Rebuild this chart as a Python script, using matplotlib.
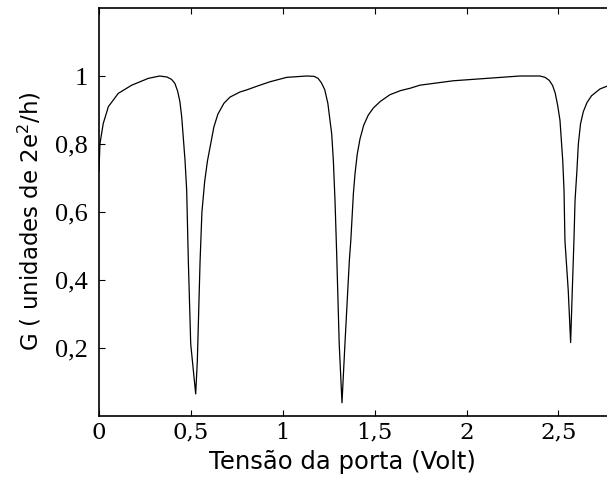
import matplotlib
matplotlib.use('Agg')
import matplotlib.pyplot as plt

#-Gate voltage (Volt)
v_gate = [0.000, 0.005, 0.023, 0.051, 0.105, 0.178, 0.268, 0.330, 0.370, 0.395,
          0.413, 0.428, 0.440, 0.450, 0.468, 0.477, 0.486, 0.499, 0.526, 0.535,
          0.550, 0.560, 0.575, 0.590, 0.604, 0.625, 0.647, 0.680, 0.713, 0.767,
          0.803, 0.870, 0.930, 1.021, 1.130, 1.170, 1.192, 1.210, 1.228, 1.245,
          1.266, 1.275, 1.284, 1.293, 1.307, 1.322, 1.338, 1.362, 1.370, 1.384,
          1.393, 1.405, 1.420, 1.440, 1.465, 1.493, 1.530, 1.583, 1.640, 1.693,
          1.746, 1.928, 2.109, 2.290, 2.399, 2.427, 2.450, 2.468, 2.482, 2.495,
          2.508, 2.523, 2.530, 2.535, 2.553, 2.566, 2.575, 2.584, 2.590, 2.600,
          2.608, 2.620, 2.635, 2.655, 2.680, 2.726, 2.764, 2.800]
#-Conductance G (units of 2e^2/h)
cond = [0.720, 0.800, 0.860, 0.910, 0.949, 0.973, 0.993, 1.000, 0.997, 0.990,
        0.978, 0.955, 0.925, 0.880, 0.752, 0.664, 0.457, 0.212, 0.065, 0.162,
        0.457, 0.600, 0.690, 0.750, 0.790, 0.850, 0.888, 0.920, 0.938, 0.953,
        0.959, 0.972, 0.983, 0.996, 1.000, 0.999, 0.993, 0.980, 0.960, 0.920,
        0.830, 0.752, 0.634, 0.480, 0.211, 0.039, 0.211, 0.457, 0.516, 0.654,
        0.713, 0.770, 0.815, 0.855, 0.885, 0.906, 0.925, 0.945, 0.957, 0.964,
        0.973, 0.986, 0.993, 1.000, 1.000, 0.996, 0.987, 0.972, 0.950, 0.915,
        0.870, 0.752, 0.664, 0.516, 0.369, 0.216, 0.369, 0.516, 0.634, 0.720,
        0.800, 0.860, 0.895, 0.922, 0.942, 0.962, 0.970, 0.975]

x_ticks = [0, 0.5, 1, 1.5, 2, 2.5]
x_ticklabels = ['0', '0,5', '1', '1,5', '2', '2,5']
y_ticks = [0.2, 0.4, 0.6, 0.8, 1.0]
y_ticklabels = ['0,2', '0,4', '0,6', '0,8', '1']

fig = plt.figure(figsize=(6.07, 4.79), dpi=100, facecolor='w')
ax = fig.add_axes([99/607., 63/479., 551.4/607., 408/479.])
ax.plot(v_gate, cond, color='k', lw=0.9)

ax.set_xlim(0, 3)
ax.set_ylim(0, 1.2)
ax.set_xticks(x_ticks)
ax.set_xticklabels(x_ticklabels, family='DejaVu Serif', fontsize=16.5)
ax.set_yticks(y_ticks)
ax.set_yticklabels(y_ticklabels, family='Liberation Serif', fontsize=19)
ax.tick_params(axis='x', direction='in', top=True, length=4, width=0.8, pad=4)
ax.tick_params(axis='y', direction='in', length=4, width=0.8, pad=8)
for sp in ax.spines.values():
    sp.set_linewidth(1.2)

fig.text(342/607., 1 - 462/479., 'Tensão da porta (Volt)', ha='center', va='center',
         fontsize=17.5, family='DejaVu Sans')
fig.text(30/607., 1 - 221/479., 'G ( unidades de 2e$^{2}$/h)', ha='center', va='center',
         rotation=90, fontsize=16.5, family='DejaVu Sans')

fig.savefig('out.png', dpi=100)
